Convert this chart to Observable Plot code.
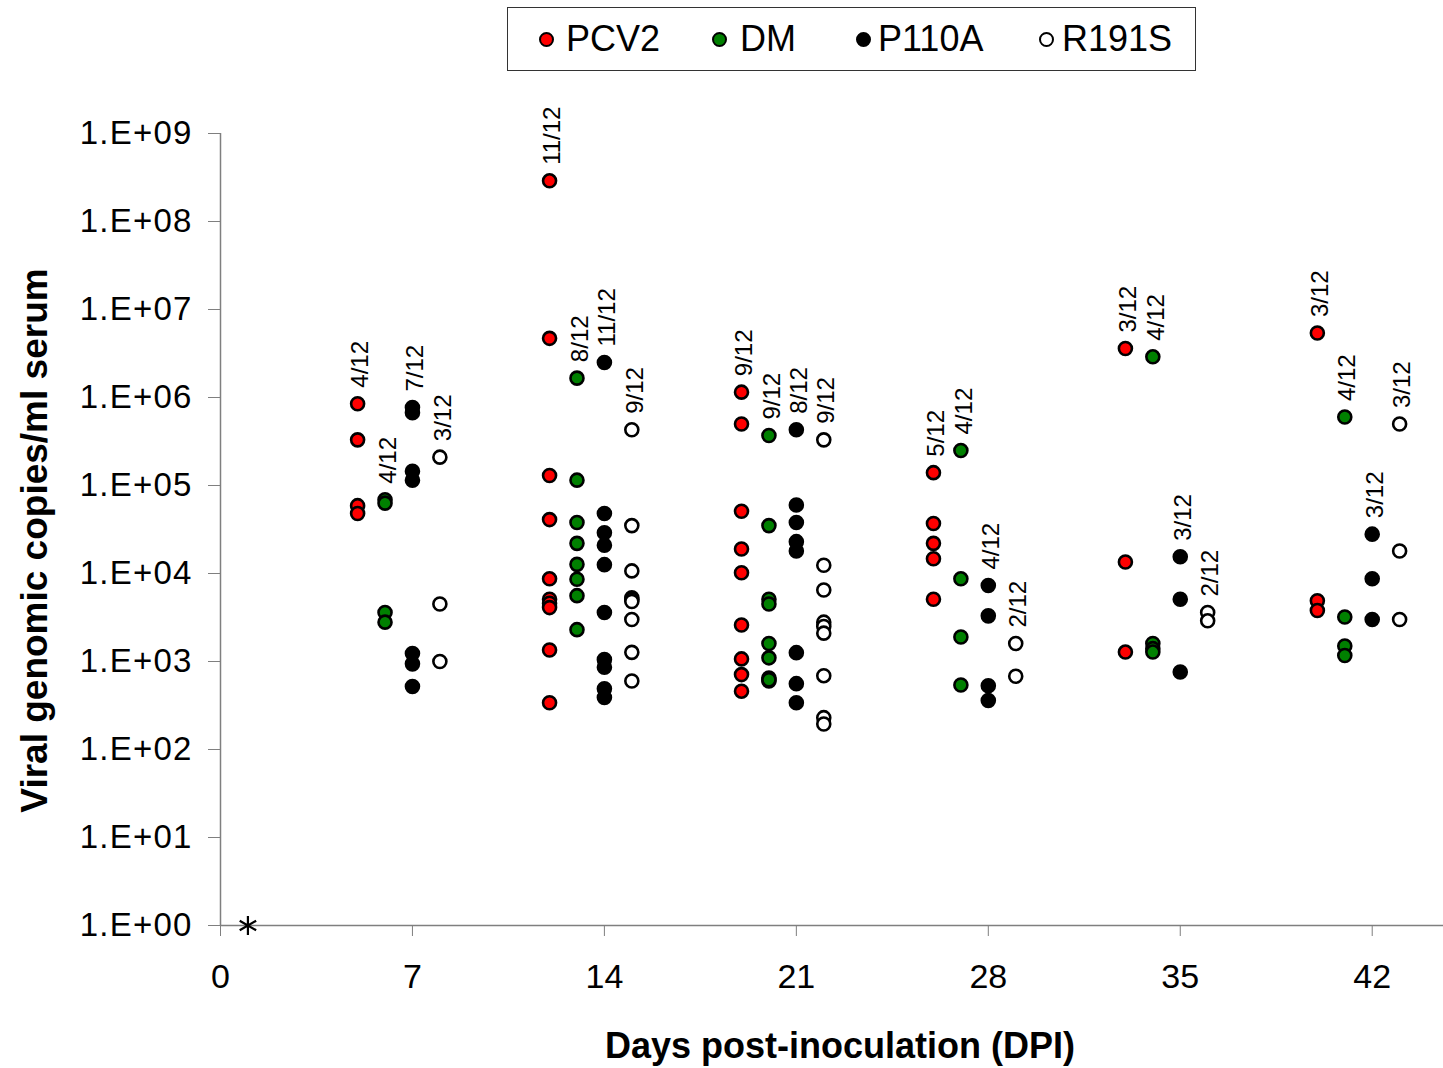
<!DOCTYPE html>
<html><head><meta charset="utf-8">
<script src="https://cdn.jsdelivr.net/npm/d3@7"></script>
<script src="https://cdn.jsdelivr.net/npm/@observablehq/plot@0.6"></script>
<style>
body{margin:0;background:#fff;font-family:"Liberation Sans",Arial,sans-serif;}
#wrap{width:1443px;height:1068px;position:relative;overflow:hidden;background:#fff}
#legend{position:absolute;left:507px;top:7px;width:687px;height:62px;border:1.5px solid #333;background:#fff}
.sw{position:absolute;top:31px;width:15px;height:15px;margin-top:-7px;border-radius:50%;border:2px solid #000;box-sizing:border-box;}
.lt{position:absolute;top:0;line-height:62px;font-size:36px;color:#000;white-space:nowrap}
#chart{position:absolute;top:80px;left:0}
#chart g[aria-label="y-axis tick label"] text{letter-spacing:1.2px}
</style></head>
<body>
<div id="wrap">
  <div id="legend"></div>
  <div id="chart"></div>
</div>
<script>
// ---- data ----
const days = [7, 14, 21, 28, 35, 42];
const seriesNames = ["PCV2", "DM", "P110A", "R191S"];
const seriesColors = ["#ff0000", "#008000", "#000000", "#ffffff"];
const xTicks = [0, 7, 14, 21, 28, 35, 42];
const yTicks = [1, 1e1, 1e2, 1e3, 1e4, 1e5, 1e6, 1e7, 1e8, 1e9];

const pcv2 = [
  [8.5e5, 3.3e5, 5.9e4, 4.8e4],
  [2.9e8, 4.7e6, 1.3e5, 4.1e4, 8.7e3, 5.1e3, 4.6e3, 4.1e3, 1.35e3, 3.4e2],
  [1.15e6, 5.0e5, 5.1e4, 1.9e4, 1.02e4, 2.6e3, 1.07e3, 7.1e2, 4.6e2],
  [1.4e5, 3.7e4, 2.2e4, 1.47e4, 5.1e3],
  [3.6e6, 1.35e4, 1.28e3],
  [5.4e6, 4.9e3, 3.8e3]
];
const dm = [
  [6.9e4, 6.3e4, 3.6e3, 2.8e3],
  [1.66e6, 1.15e5, 3.8e4, 2.2e4, 1.27e4, 8.6e3, 5.6e3, 2.3e3],
  [3.7e5, 3.5e4, 5.1e3, 4.5e3, 1.6e3, 1.1e3, 6.5e2, 6.0e2, 6.2e2],
  [2.5e5, 8.7e3, 1.9e3, 5.4e2],
  [2.9e6, 1.6e3, 1.4e3, 1.28e3],
  [6.0e5, 3.2e3, 1.5e3, 1.17e3]
];
const p110a = [
  [7.7e5, 6.7e5, 1.45e5, 1.15e5, 1.23e3, 9.4e2, 5.2e2],
  [2.5e6, 4.8e4, 2.9e4, 2.1e4, 1.26e4, 3.6e3, 1.05e3, 8.6e2, 4.9e2, 3.9e2],
  [4.3e5, 6.0e4, 3.8e4, 2.3e4, 1.8e4, 1.26e3, 5.6e2, 3.4e2],
  [7.3e3, 3.3e3, 5.3e2, 3.6e2],
  [1.55e4, 5.1e3, 7.6e2],
  [2.8e4, 8.7e3, 3.0e3]
];
const r191s = [
  [2.1e5, 4.5e3, 1.0e3],
  [4.3e5, 3.5e4, 1.07e4, 5.3e3, 5.1e3, 4.8e3, 3.0e3, 1.27e3, 6.0e2],
  [3.3e5, 1.24e4, 6.5e3, 2.8e3, 2.5e3, 2.1e3, 6.9e2, 2.3e2, 1.95e2],
  [1.6e3, 6.8e2],
  [3.6e3, 2.9e3],
  [5.0e5, 1.8e4, 3.0e3]
];
const pcv2Pos  = ["4/12", "11/12", "9/12", "5/12", "3/12", "3/12"];
const dmPos    = ["4/12", "8/12", "9/12", "4/12", "4/12", "4/12"];
const p110aPos = ["7/12", "11/12", "8/12", "4/12", "3/12", "3/12"];
const r191sPos = ["3/12", "9/12", "9/12", "2/12", "2/12", "3/12"];
const baseline = [{day: 1, value: 1}];

// ---- build tables ----
const allSeries = [pcv2, dm, p110a, r191s];
const allPos = [pcv2Pos, dmPos, p110aPos, r191sPos];
const offsets = [-2, -1, 0, 1]; // side-by-side placement around each sampling day
const points = [];
const labels = [];
allSeries.forEach((ser, si) => {
  ser.forEach((vals, di) => {
    vals.forEach(v => points.push({series: seriesNames[si], x: days[di] + offsets[si], value: v}));
    labels.push({series: seriesNames[si], x: days[di] + offsets[si], value: d3.max(vals), text: allPos[si][di]});
  });
});

// ---- legend ----
const legend = document.getElementById("legend");
const dotX = [38, 211, 355, 538];
const txtX = [58, 232, 370, 554];
seriesNames.forEach((name, i) => {
  const s = document.createElement("span");
  s.className = "sw"; s.style.left = (dotX[i] - 7) + "px"; s.style.background = seriesColors[i];
  legend.appendChild(s);
  const t = document.createElement("span");
  t.className = "lt"; t.style.left = txtX[i] + "px"; t.textContent = name;
  legend.appendChild(t);
});

// ---- chart ----
const fmt = d => "1.E+" + String(Math.round(Math.log10(d))).padStart(2, "0");
const axisColor = "#7f7f7f";
const chart = Plot.plot({
  width: 1443,
  height: 988,
  marginLeft: 220,
  marginRight: 0,
  marginTop: 53,
  marginBottom: 143,
  style: {fontFamily: "'Liberation Sans', Arial, sans-serif", background: "#fff", overflow: "visible"},
  x: {domain: [0, 44.6]},
  y: {type: "log", domain: [1, 1e9]},
  color: {domain: seriesNames, range: seriesColors},
  marks: [
    Plot.ruleY([1], {stroke: axisColor, strokeWidth: 1.5}),
    Plot.ruleX([0], {y1: 1, y2: 1e9, stroke: axisColor, strokeWidth: 1.5}),
    Plot.axisY({ticks: yTicks, tickFormat: fmt, tickSize: 12, tickPadding: 16, fontSize: 33, stroke: axisColor, fill: "#000", label: null}),
    Plot.axisX({ticks: xTicks, tickFormat: d => String(d), tickSize: 11, tickPadding: 27, fontSize: 34, stroke: axisColor, fill: "#000", label: null}),
    Plot.dot(points, {x: "x", y: "value", fill: "series", stroke: "#000", strokeWidth: 2.6, r: 6.5}),
    Plot.dot(baseline, {x: "day", y: "value", symbol: "asterisk", r: 9, stroke: "#000", strokeWidth: 2.2}),
    Plot.text(labels, {x: "x", y: "value", text: "text", rotate: -90, textAnchor: "start", lineAnchor: "middle", dx: 3, dy: -16, fontSize: 24, fill: "#000"}),
    Plot.text(["Days post-inoculation (DPI)"], {frameAnchor: "bottom", textAnchor: "middle", lineAnchor: "bottom", dx: 8, dy: 132, fontSize: 36, fontWeight: "bold", fill: "#000"}),
    Plot.text(["Viral genomic copies/ml serum"], {frameAnchor: "left", rotate: -90, textAnchor: "middle", lineAnchor: "middle", dx: -185, dy: 11, fontSize: 37, fontWeight: "bold", fill: "#000"})
  ]
});
document.getElementById("chart").appendChild(chart);
</script>
</body></html>
